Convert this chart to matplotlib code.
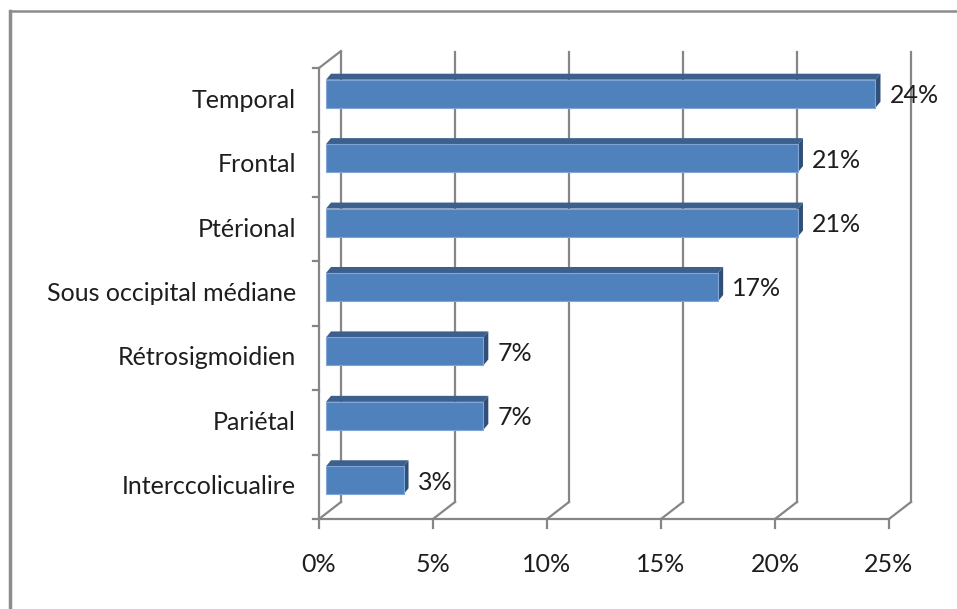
import matplotlib
matplotlib.use("Agg")
from matplotlib import pyplot as plt
from matplotlib.patches import Polygon
from matplotlib.lines import Line2D

# Approach per category, share of 29 cases (%)
categories = ["Interccolicualire", "Pariétal", "Rétrosigmoidien",
              "Sous occipital médiane", "Ptérional", "Frontal", "Temporal"]
values = [3.4, 6.9, 6.9, 17.2, 20.7, 20.7, 24.1]
xticks = [0, 5, 10, 15, 20, 25]
xtick_labels = ["0%", "5%", "10%", "15%", "20%", "25%"]

plt.rcParams['font.family'] = ['Lato', 'DejaVu Sans']

W, H, DPI = 957, 609, 100
fig = plt.figure(figsize=(W / DPI, H / DPI), dpi=DPI)

# front plane of the plot box, in pixels
left, right, top, bottom = 319, 889, 68, 519
ax = fig.add_axes([left / W, 1 - bottom / H, (right - left) / W, (bottom - top) / H])
ax.set_xlim(0, 25)
ax.set_ylim(-0.5, len(categories) - 0.5)
ax.axis("off")

grid_col = "#868686"
text_col = "#1e1e1e"
fsize = 18


def px(dx, dy):
    # pixel offset -> data offset (dy positive = upwards)
    ux = 25 / (right - left)
    uy = len(categories) / (bottom - top)
    return dx * ux, dy * uy


ylo, yhi = ax.get_ylim()
depth_x, depth_y = px(22, 17)

# back wall gridlines and floor diagonals
for t, lab in zip(xticks, xtick_labels):
    ax.add_line(Line2D([t + depth_x, t + depth_x], [ylo + depth_y, yhi + depth_y - px(0, 1)[1]],
                       color=grid_col, lw=1.6, clip_on=False))
    ax.add_line(Line2D([t, t + depth_x], [ylo, ylo + depth_y], color=grid_col, lw=1.6, clip_on=False))
    # tick below the floor
    ax.add_line(Line2D([t, t], [ylo, ylo - px(0, 9)[1]], color=grid_col, lw=1.6, clip_on=False))
    ax.text(t, ylo - px(0, 46)[1], lab, ha="center", va="center",
            fontsize=fsize, color=text_col)

# front floor edge
ax.add_line(Line2D([0, 25], [ylo, ylo], color=grid_col, lw=1.6, clip_on=False))
# left side wall
ax.add_line(Line2D([0, 0], [ylo, yhi], color=grid_col, lw=1.6, clip_on=False))
ax.add_line(Line2D([0, depth_x], [yhi, yhi + depth_y], color=grid_col, lw=1.6, clip_on=False))
tick_w = px(6, 0)[0]
for k in range(len(categories) + 1):
    yb = ylo + k
    ax.add_line(Line2D([-tick_w, 0], [yb, yb], color=grid_col, lw=1.6, clip_on=False))

# 3D bars
bar_h = 0.435
fx, fy = px(7, 6.5)       # front face offset inside the box
bx, by = px(5, 6)         # bar depth
front_col = "#4f81bd"
top_col = "#3c5f8c"
side_col = "#2f4f78"
edge_col = "#7fa6d6"
for i, (cat, v) in enumerate(zip(categories, values)):
    y0 = i - bar_h / 2 + fy
    y1 = i + bar_h / 2 + fy
    x0 = fx
    x1 = v + fx
    top_face = Polygon([(x0, y1), (x1, y1), (x1 + bx, y1 + by), (x0 + bx, y1 + by)],
                       closed=True, facecolor=top_col, edgecolor="none", clip_on=False, zorder=3)
    side_face = Polygon([(x1, y0), (x1 + bx, y0 + by), (x1 + bx, y1 + by), (x1, y1)],
                        closed=True, facecolor=side_col, edgecolor="none", clip_on=False, zorder=3)
    front_face = Polygon([(x0, y0), (x1, y0), (x1, y1), (x0, y1)],
                         closed=True, facecolor=front_col, edgecolor=edge_col, lw=0.8,
                         clip_on=False, zorder=4)
    for p in (top_face, side_face, front_face):
        ax.add_patch(p)
    ax.text(x1 + px(14, 0)[0], i + px(0, 4.5)[1], f"{v:.0f}%", ha="left", va="center",
            fontsize=fsize, color=text_col, zorder=5)
    ax.text(-px(23, 0)[0], i, cat, ha="right", va="center", fontsize=fsize, color=text_col)

# chart area border (top and left edges)
fig.add_artist(Line2D([10 / W, 10 / W], [0, 1 - 11 / H], color="#8c8c8c", lw=2.5))
fig.add_artist(Line2D([10 / W, 1], [1 - 11 / H, 1 - 11 / H], color="#8c8c8c", lw=1.8))

fig.savefig("out.png", dpi=DPI)
